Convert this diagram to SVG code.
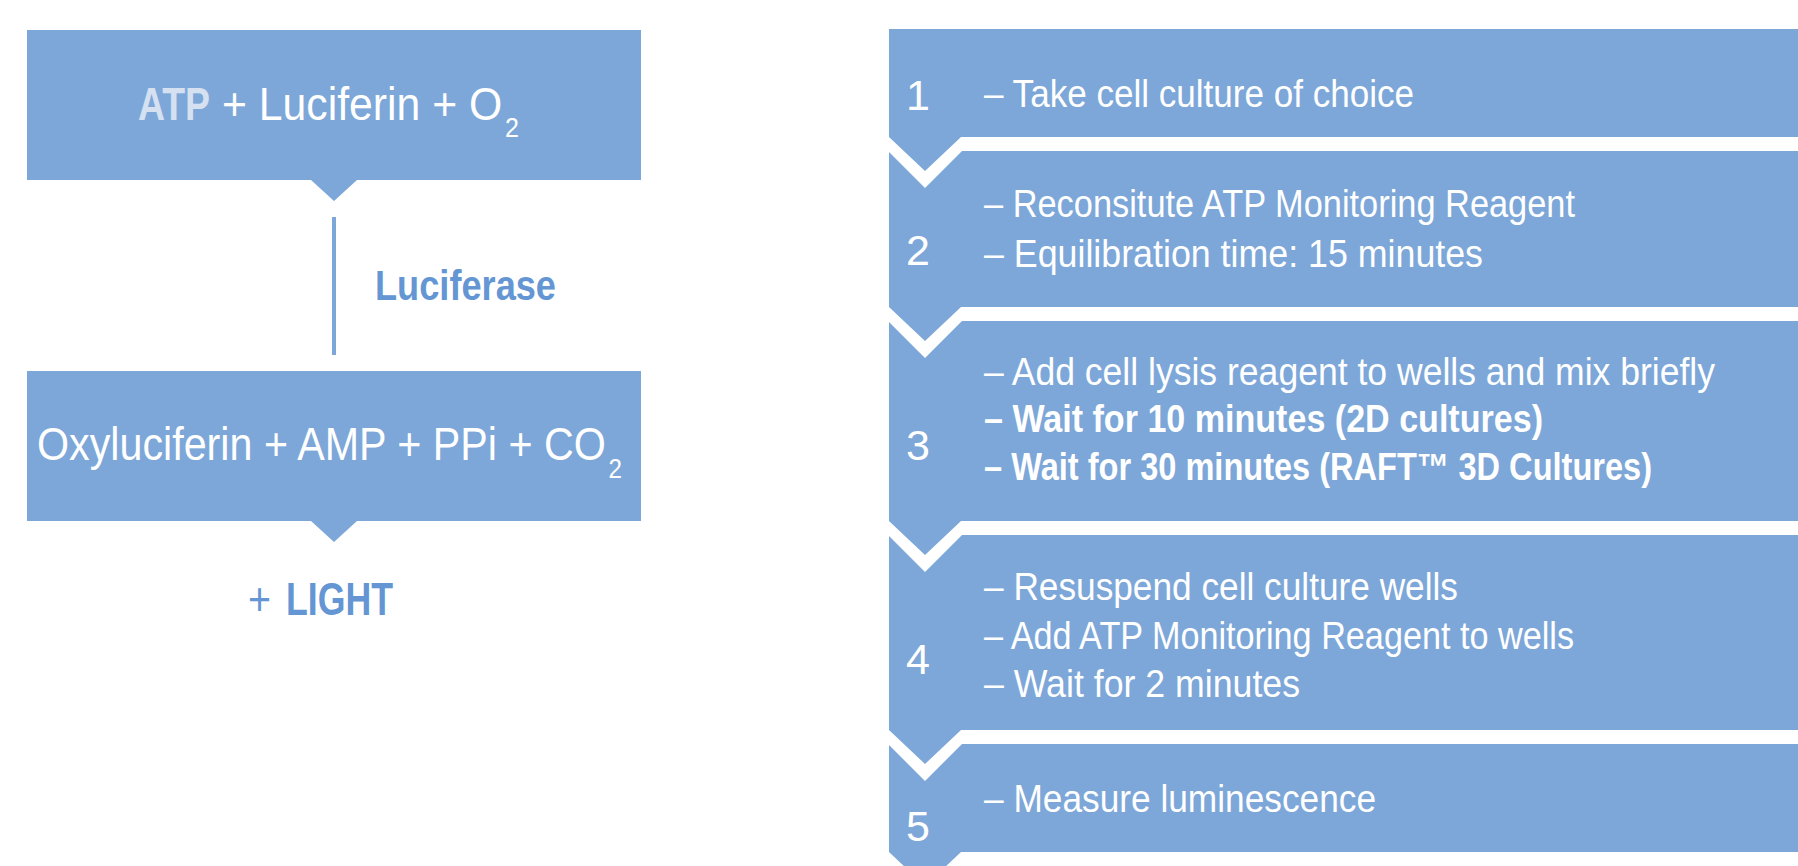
<svg xmlns="http://www.w3.org/2000/svg" width="1798" height="866" viewBox="0 0 1798 866">
<style>
.box{fill:#7da7d8}
.t{font-family:"Liberation Sans",Arial,sans-serif;fill:#ffffff}
.big{font-size:46px}
.sub{font-size:27px}
.step{font-size:38px}
.num{font-size:43px;text-anchor:middle}
.b{font-weight:bold}
.acc{fill:#6496d3}
</style>
<rect width="1798" height="866" fill="#ffffff"/>
<g id="reactants">
<path class="box" d="M27,30H641V180H357L334,201L311,180H27Z"/>
<text class="t big b" x="138" y="120" style="fill:#d5e0f1" textLength="72" lengthAdjust="spacingAndGlyphs">ATP</text>
<text class="t big" x="222" y="120" textLength="297" lengthAdjust="spacingAndGlyphs">+ Luciferin + O<tspan class="sub" dx="3" dy="17">2</tspan></text>
</g>
<g id="connectors">
<line x1="334" y1="217" x2="334" y2="355" stroke="#7da7d8" stroke-width="4"/>
</g>
<g id="enzyme">
<text class="t acc b" x="375" y="300" font-size="42" textLength="181" lengthAdjust="spacingAndGlyphs">Luciferase</text>
</g>
<g id="products">
<path class="box" d="M27,371H641V521H357L334,542L311,521H27Z"/>
<text class="t big" x="37" y="460" textLength="585" lengthAdjust="spacingAndGlyphs">Oxyluciferin + AMP + PPi + CO<tspan class="sub" dx="3" dy="18">2</tspan></text>
</g>
<g id="light">
<text class="t big acc" x="248" y="615" textLength="23" lengthAdjust="spacingAndGlyphs">+</text>
<text class="t big acc b" x="286" y="615" textLength="107" lengthAdjust="spacingAndGlyphs">LIGHT</text>
</g>
<g id="step1">
<path class="box" d="M889,29H1798V137H961L925,171L889,137Z"/>
<text class="t num" x="918" y="110">1</text>
<text class="t step" x="984" y="107" textLength="430" lengthAdjust="spacingAndGlyphs">– Take cell culture of choice</text>
</g>
<g id="step2">
<path class="box" d="M889,152L925,188L962,151H1798V307H961L925,341L889,307Z"/>
<text class="t num" x="918" y="265">2</text>
<text class="t step" x="984" y="217" textLength="591" lengthAdjust="spacingAndGlyphs">– Reconsitute ATP Monitoring Reagent</text>
<text class="t step" x="984" y="267" textLength="499" lengthAdjust="spacingAndGlyphs">– Equilibration time: 15 minutes</text>
</g>
<g id="step3">
<path class="box" d="M889,322L925,358L962,321H1798V521H961L925,555L889,521Z"/>
<text class="t num" x="918" y="460">3</text>
<text class="t step" x="984" y="385" textLength="731" lengthAdjust="spacingAndGlyphs">– Add cell lysis reagent to wells and mix briefly</text>
<text class="t step b" x="984" y="432" textLength="559" lengthAdjust="spacingAndGlyphs">– Wait for 10 minutes (2D cultures)</text>
<text class="t step b" x="984" y="480" textLength="668" lengthAdjust="spacingAndGlyphs">– Wait for 30 minutes (RAFT™ 3D Cultures)</text>
</g>
<g id="step4">
<path class="box" d="M889,536L925,572L962,535H1798V730H961L925,764L889,730Z"/>
<text class="t num" x="918" y="674">4</text>
<text class="t step" x="984" y="600" textLength="474" lengthAdjust="spacingAndGlyphs">– Resuspend cell culture wells</text>
<text class="t step" x="984" y="649" textLength="590" lengthAdjust="spacingAndGlyphs">– Add ATP Monitoring Reagent to wells</text>
<text class="t step" x="984" y="697" textLength="316" lengthAdjust="spacingAndGlyphs">– Wait for 2 minutes</text>
</g>
<g id="step5">
<path class="box" d="M889,745L925,781L962,744H1798V852H961L925,886L889,852Z"/>
<text class="t num" x="918" y="841">5</text>
<text class="t step" x="984" y="812" textLength="392" lengthAdjust="spacingAndGlyphs">– Measure luminescence</text>
</g>
</svg>
